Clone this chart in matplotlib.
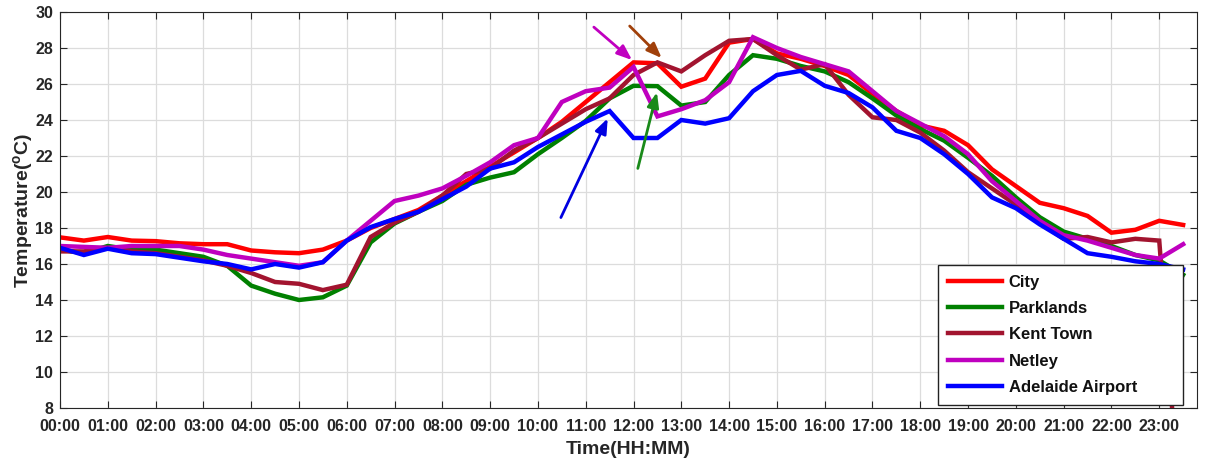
import numpy as np
import matplotlib.pyplot as plt

# half-hourly readings, 00:00 .. 23:30
hours = np.arange(0, 24, 0.5)

city = [17.48, 17.3, 17.5, 17.3, 17.27, 17.15, 17.1, 17.1, 16.75, 16.65, 16.6, 16.8,
        17.3, 18.0, 18.5, 19.0, 19.8, 20.6, 21.4, 22.2, 23.0, 23.9, 25.0, 26.1,
        27.2, 27.15, 25.85, 26.3, 28.3, 28.5, 27.7, 27.4, 27.0, 26.5, 25.45, 24.5,
        23.7, 23.4, 22.6, 21.26, 20.33, 19.4, 19.1, 18.67, 17.74, 17.9, 18.4, 18.17]

parklands = [16.8, 16.6, 17.0, 16.8, 16.8, 16.6, 16.4, 15.9, 14.8, 14.35, 14.0, 14.15,
             14.8, 17.2, 18.25, 18.9, 19.5, 20.4, 20.8, 21.1, 22.1, 23.0, 23.95, 25.2,
             25.9, 25.88, 24.8, 25.0, 26.5, 27.6, 27.4, 27.0, 26.7, 26.1, 25.2, 24.25,
             23.5, 22.85, 21.9, 20.9, 19.7, 18.6, 17.8, 17.4, 17.0, 16.5, 16.2, 15.4]

kent_town = [16.7, 16.7, 16.9, 16.7, 16.6, 16.4, 16.2, 15.9, 15.5, 15.0, 14.9, 14.55,
             14.85, 17.5, 18.3, 18.9, 19.8, 21.0, 21.3, 22.3, 23.0, 23.8, 24.6, 25.2,
             26.5, 27.2, 26.7, 27.6, 28.4, 28.5, 27.6, 26.8, 27.1, 25.4, 24.15, 24.0,
             23.3, 22.3, 21.1, 20.2, 19.3, 18.3, 17.4, 17.5, 17.2, 17.4, 17.3, 0.0]

netley = [17.0, 16.95, 16.9, 17.0, 17.0, 17.0, 16.8, 16.5, 16.3, 16.1, 15.9, 16.1,
          17.3, 18.4, 19.5, 19.8, 20.2, 20.9, 21.65, 22.6, 23.0, 25.0, 25.6, 25.8,
          26.95, 24.2, 24.6, 25.1, 26.1, 28.6, 28.0, 27.5, 27.1, 26.7, 25.6, 24.5,
          23.8, 23.1, 22.1, 20.6, 19.5, 18.4, 17.6, 17.3, 16.9, 16.5, 16.3, 17.1]

airport = [16.9, 16.5, 16.85, 16.6, 16.55, 16.35, 16.15, 16.0, 15.7, 16.0, 15.8, 16.1,
           17.3, 18.05, 18.5, 18.9, 19.6, 20.3, 21.3, 21.65, 22.5, 23.2, 23.9, 24.5,
           23.0, 23.0, 24.0, 23.8, 24.1, 25.6, 26.5, 26.73, 25.9, 25.5, 24.7, 23.4,
           23.0, 22.1, 21.0, 19.7, 19.1, 18.2, 17.4, 16.6, 16.4, 16.15, 16.0, 15.7]

series = [
    ('City', city, '#ff0000'),
    ('Parklands', parklands, '#008000'),
    ('Kent Town', kent_town, '#a2142f'),
    ('Netley', netley, '#bf00bf'),
    ('Adelaide Airport', airport, '#0000ff'),
]

tick_labels = ['%02d:00' % h for h in range(24)]

# arrows pointing at the midday dips: (tail, head) in hours / degC
arrows = [
    ((11.17, 29.16), (11.97, 27.33), '#c000c0'),
    ((11.92, 29.22), (12.59, 27.44), '#a0400a'),
    ((12.09, 21.31), (12.49, 25.54), '#1a8a1a'),
    ((10.48, 18.58), (11.46, 24.09), '#0000e0'),
]

plt.rcParams['font.family'] = 'Liberation Sans'
plt.rcParams['font.weight'] = 'bold'
plt.rcParams['mathtext.fontset'] = 'custom'
plt.rcParams['mathtext.rm'] = 'Liberation Sans:bold'
plt.rcParams['mathtext.it'] = 'Liberation Sans:bold'
plt.rcParams['mathtext.bf'] = 'Liberation Sans:bold'

dark = '#262626'
fig = plt.figure(figsize=(12.08, 4.62), dpi=100)
ax = fig.add_axes([60 / 1208, 1 - 408 / 462, 1137 / 1208, 396 / 462])

for name, vals, col in series:
    ax.plot(hours, vals, color=col, linewidth=3.2, label=name, solid_joinstyle='miter')

for (x0, y0), (x1, y1), col in arrows:
    ax.annotate('', xy=(x1, y1), xytext=(x0, y0),
                arrowprops=dict(arrowstyle='-|>,head_length=0.9,head_width=0.35',
                                color=col, lw=2.0, shrinkA=0, shrinkB=0))

ax.set_xlim(0, 23.79)
ax.set_ylim(8, 30)
ax.set_xticks(range(24))
ax.set_xticklabels(tick_labels)
ax.set_yticks(range(8, 31, 2))
ax.grid(True, color='#dcdcdc', linewidth=0.9)
ax.tick_params(direction='in', top=True, right=True, length=5, width=0.8,
               colors=dark, labelsize=11.5)
ax.tick_params(axis='x', pad=8)
ax.tick_params(axis='y', pad=5)
for lab in ax.get_xticklabels() + ax.get_yticklabels():
    lab.set_fontweight('bold')
for sp in ax.spines.values():
    sp.set_color(dark)
    sp.set_linewidth(0.8)

ax.set_xlabel('Time(HH:MM)', fontsize=14, fontweight='bold', color=dark, labelpad=5)
ax.set_ylabel(r'Temperature($^{o}$C)', fontsize=14, fontweight='bold', color=dark, labelpad=0)

leg = ax.legend(loc='lower left', bbox_to_anchor=(0.772, 0.0076, 0.216, 0.356),
                mode='expand', fontsize=12,
                frameon=True, fancybox=False, framealpha=1, edgecolor='#222222',
                handlelength=3.25, handletextpad=0.4, labelspacing=0.68,
                borderpad=0.6, borderaxespad=0)
leg.get_frame().set_linewidth(1.0)
leg.set_zorder(5)
for t in leg.get_texts():
    t.set_fontweight('bold')
    t.set_color('#111111')

fig.savefig('out.png', dpi=100)
